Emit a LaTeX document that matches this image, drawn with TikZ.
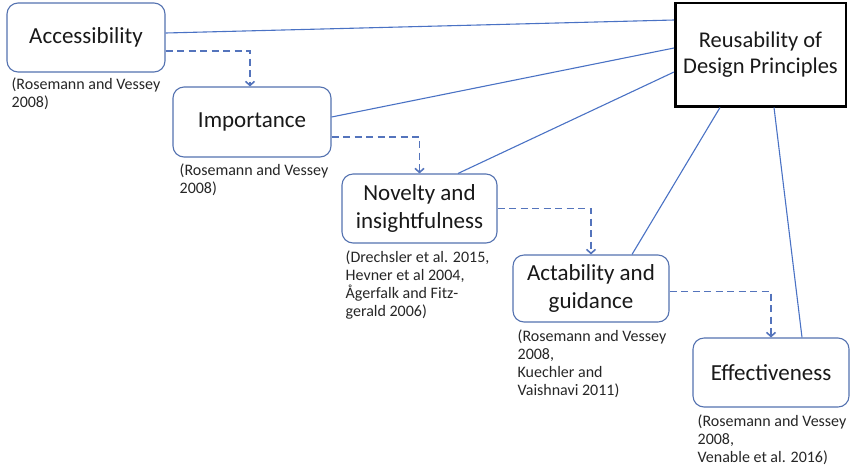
\documentclass[tikz,border=0pt]{standalone}
\usepackage{fontspec}
\setmainfont{Carlito}
\usetikzlibrary{arrows.meta}
\definecolor{linkblue}{RGB}{74,114,196}
\definecolor{flowblue}{RGB}{84,116,188}
\definecolor{boxline}{RGB}{84,114,176}
\begin{document}
\begin{tikzpicture}[x=1pt,y=-1pt,
  factor/.style={draw=boxline, line width=1.1pt, rounded corners=11pt, fill=white,
    inner sep=0pt, align=center, font=\fontsize{23}{28}\selectfont, text=black!90},
  cite/.style={anchor=north west, inner sep=0pt, align=left,
    font=\fontsize{16}{18}\selectfont, text=black!85},
  link/.style={draw=linkblue, line width=1.1pt},
  flow/.style={draw=flowblue, line width=1.6pt, dash pattern=on 7pt off 4.5pt,
    -{Straight Barb[length=4pt,width=9pt]}},
]
\useasboundingbox (0,0) rectangle (850,467);

% factor boxes
\node[factor, minimum width=158pt, minimum height=69pt] (acc) at (86,37.5) {Accessibility};
\node[factor, minimum width=158pt, minimum height=70pt] (imp) at (252,122) {Importance};
\node[factor, minimum width=155pt, minimum height=69pt] (nov) at (419.5,208.5) {Novelty and\\insightfulness};
\node[factor, minimum width=156pt, minimum height=67pt] (act) at (591,288.5) {Actability and\\guidance};
\node[factor, minimum width=156pt, minimum height=69pt] (eff) at (771,372.5) {Effectiveness};

% target box
\node[draw=black, line width=2.5pt, fill=white, inner sep=0pt, align=center,
  minimum width=170.5pt, minimum height=103.5pt,
  font=\fontsize{22.5}{26}\selectfont, text=black!90] (reus) at (760.5,54.5)
  {Reusability of\\Design Principles};

% references under each box
\node[cite] (acccite) at ([xshift=5pt,yshift=-5pt]acc.south west) {(Rosemann and Vessey\\2008)};
\node[cite] (impcite) at ([xshift=7pt,yshift=-6pt]imp.south west) {(Rosemann and Vessey\\2008)};
\node[cite] (novcite) at ([xshift=4pt,yshift=-7pt]nov.south west) {(Drechsler et al. 2015,\\Hevner et al 2004,\\Ågerfalk and Fitz-\\gerald 2006)};
\node[cite] (actcite) at ([xshift=5pt,yshift=-7pt]act.south west) {(Rosemann and Vessey\\2008,\\Kuechler and\\Vaishnavi 2011)};
\node[cite] (effcite) at ([xshift=5pt,yshift=-7pt]eff.south west) {(Rosemann and Vessey\\2008,\\Venable et al. 2016)};

% solid links to the target
\draw[link] ([yshift=4.5pt]acc.east) -- ([yshift=34.5pt]reus.west);
\draw[link] ([yshift=5pt]imp.east) -- ([yshift=6.5pt]reus.west);
\draw[link] ([xshift=38.5pt]nov.north) -- ([yshift=-17.5pt]reus.west);
\draw[link] ([xshift=41pt]act.north) -- ([xshift=-40.5pt]reus.south);
\draw[link] ([xshift=31pt]eff.north) -- ([xshift=13.5pt]reus.south);

% dashed sequence arrows
\draw[flow] ([yshift=-13.5pt]acc.east) -| ([xshift=-2pt]imp.north);
\draw[flow] ([yshift=-15pt]imp.east) -| (nov.north);
\draw[flow] (nov.east) -| (act.north);
\draw[flow] ([yshift=-3pt]act.east) -| (eff.north);
\end{tikzpicture}
\end{document}
